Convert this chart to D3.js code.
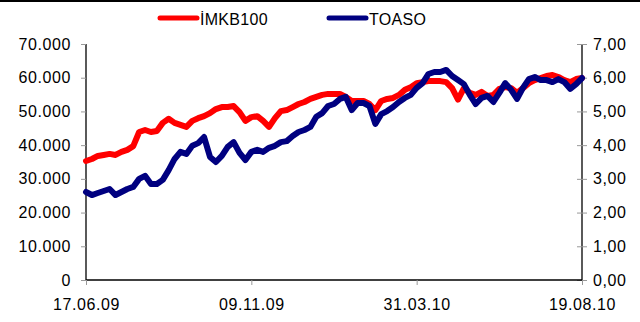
<!DOCTYPE html>
<html><head><meta charset="utf-8">
<script src="https://cdn.jsdelivr.net/npm/d3@7"></script>
<style>
html,body{margin:0;padding:0;background:#fff;}
svg{display:block;}
text{font-family:"Liberation Sans",Arial,sans-serif;fill:#000;}
</style></head>
<body><svg id="c" width="640" height="322"></svg>
<script>
// Tick labels (dates) placed at indices of the sampled series
const dateLabels = ["17.06.09", "09.11.09", "31.03.10", "19.08.10"];
const dateLabelIdx = [0, 28, 56, 84];

// İMKB100 index (left axis)
const imkb100 = [
35300,35900,36800,37100,37400,37100,38000,38600,39700,43900,
44500,43900,44200,46600,47800,46600,46000,45400,47200,48000,
48600,49500,50700,51300,51300,51600,49800,47200,48300,48600,
47200,45400,48000,50100,50400,51300,52200,52800,53700,54300,
54900,55200,55200,55200,54300,53100,53100,53100,52200,50400,
53100,53700,54000,54900,56400,57200,58400,58700,59000,59000,
59000,58700,56900,53500,56900,55500,54900,55800,54600,54900,
56700,57200,56900,55500,56900,58400,59300,59900,60500,60800,
60200,59300,58700,59600,59900];

// TOASO share price (right axis)
const toaso = [
2.61,2.52,2.58,2.64,2.70,2.52,2.61,2.70,2.76,3.00,
3.09,2.85,2.85,2.97,3.26,3.59,3.80,3.74,3.98,4.06,
4.24,3.65,3.50,3.68,3.95,4.09,3.77,3.56,3.80,3.86,
3.80,3.92,3.98,4.09,4.12,4.27,4.39,4.45,4.54,4.84,
4.95,5.16,5.22,5.37,5.43,5.04,5.25,5.25,5.16,4.63,
4.92,5.01,5.13,5.28,5.40,5.49,5.70,5.84,6.11,6.17,
6.17,6.23,6.05,5.93,5.81,5.49,5.22,5.40,5.46,5.28,
5.55,5.84,5.64,5.37,5.70,5.96,6.02,5.93,5.93,5.87,
5.96,5.87,5.67,5.81,5.99];

const leftTicks = [0,10000,20000,30000,40000,50000,60000,70000];
const rightTicks = [0,1,2,3,4,5,6,7];

const svg = d3.select("#c");
const L = 86, R = 582, T = 44, B = 280;

const x = d3.scaleLinear().domain([0, imkb100.length - 1]).range([L, R]);
const yL = d3.scaleLinear().domain([0, 70000]).range([B, T]);
const yR = d3.scaleLinear().domain([0, 7]).range([B, T]);

// top border line
svg.append("rect").attr("x",0).attr("y",0).attr("width",640).attr("height",2).attr("fill","#000");

const fmtL = v => v === 0 ? "0" : d3.format(",")(v).replace(/,/g, ".");
const fmtR = v => d3.format(".2f")(v).replace(".", ",");

// left axis
const gL = svg.append("g").attr("transform", `translate(${L},0)`)
  .call(d3.axisLeft(yL).tickValues(leftTicks).tickFormat(fmtL).tickSize(5).tickPadding(10));
// right axis
const gR = svg.append("g").attr("transform", `translate(${R},0)`)
  .call(d3.axisRight(yR).tickValues(rightTicks).tickFormat(fmtR).tickSize(5).tickPadding(5));
// bottom axis
const gB = svg.append("g").attr("transform", `translate(0,${B})`)
  .call(d3.axisBottom(x).tickValues(dateLabelIdx).tickFormat((d,i) => dateLabels[i]).tickSize(5).tickPadding(14));

[gL, gR, gB].forEach(g => {
  g.select(".domain").attr("stroke", "#000").attr("stroke-width", 1.3);
  g.selectAll(".tick line").attr("stroke", "#999").attr("stroke-width", 1);
  g.selectAll("text").attr("font-size", "16px").attr("letter-spacing", "0.6px")
    .attr("font-family", "'Liberation Sans', Arial, sans-serif").attr("fill", "#000");
});
// domain lines: strip end ticks
gL.select(".domain").attr("d", `M0,${T}V${B}`);
gR.select(".domain").attr("d", `M0,${T}V${B}`);
gB.select(".domain").attr("d", `M${L},0H${R}`);
// right ticks cross the axis
gR.selectAll(".tick line").attr("x1", -5).attr("x2", 5);
gR.selectAll(".tick text").attr("x", 11);

const lineL = d3.line().x((d,i) => x(i)).y(d => yL(d));
const lineR = d3.line().x((d,i) => x(i)).y(d => yR(d));

svg.append("path").datum(imkb100).attr("d", lineL)
  .attr("fill","none").attr("stroke","#ff0000").attr("stroke-width",6)
  .attr("stroke-linejoin","round").attr("stroke-linecap","round");
svg.append("path").datum(toaso).attr("d", lineR)
  .attr("fill","none").attr("stroke","#000080").attr("stroke-width",6)
  .attr("stroke-linejoin","round").attr("stroke-linecap","round");

// legend
const legend = [
  {name: "İMKB100", color: "#ff0000", x0: 160},
  {name: "TOASO", color: "#000080", x0: 329}
];
legend.forEach(l => {
  svg.append("line").attr("x1", l.x0).attr("x2", l.x0 + 37).attr("y1", 18).attr("y2", 18)
    .attr("stroke", l.color).attr("stroke-width", 5).attr("stroke-linecap", "round");
  svg.append("text").attr("x", l.x0 + 40).attr("y", 25).attr("font-size", "16px")
    .attr("letter-spacing", "0.3px").text(l.name);
});
</script></body></html>
